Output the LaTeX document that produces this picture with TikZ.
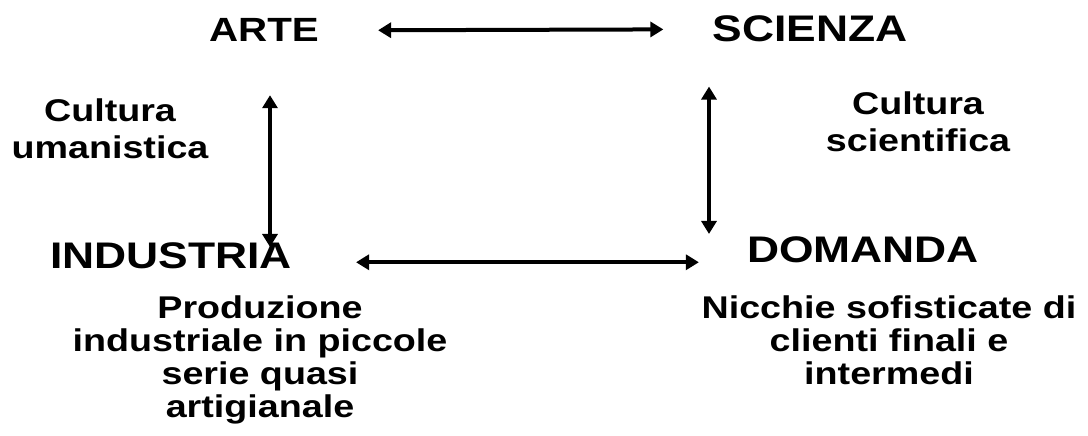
\documentclass[tikz,border=0pt]{standalone}
\usepackage{fontspec}
\setmainfont{Liberation Sans}[FakeStretch=1.2]
\usetikzlibrary{arrows.meta}
\begin{document}
\begin{tikzpicture}[x=1pt,y=-1pt,
  big/.style={inner sep=0pt,anchor=base,font=\fontsize{37}{39}\selectfont\bfseries},
  small/.style={inner sep=0pt,anchor=base,align=center,font=\fontsize{31.4}{37}\selectfont\bfseries},
  body/.style={inner sep=0pt,anchor=base,align=center,font=\fontsize{31.4}{33}\selectfont\bfseries},
  dbl/.style={{Triangle[length=13pt,width=15pt]}-{Triangle[length=13pt,width=15pt]},line width=4pt}]
\useasboundingbox (0,0) rectangle (1088,436);
\node[big,font=\fontsize{33.6}{36}\selectfont\bfseries] (arte) at (264,42) {ARTE};
\node[big] (scienza) at (810,42) {SCIENZA};
\node[big] (industria) at (171,268) {INDUSTRIA};
\node[big] (domanda) at (863,262) {DOMANDA};
\node[small] (cu) at (110,158) {Cultura\\umanistica};
\node[small] (cs) at (918,151) {Cultura\\scientifica};
\node[body] (prod) at (260,417) {Produzione\\industriale in piccole\\serie quasi\\artigianale};
\node[body] (nic) at (889,384) {Nicchie sofisticate di\\clienti finali e\\intermedi};
\draw[dbl,shorten <=59pt,shorten >=49pt] (arte.east) -- (scienza.west);
\draw[dbl,shorten <=53pt,shorten >=-5pt] ([xshift=6pt]arte.south) -- ([xshift=6pt]arte.south |- industria.north);
\draw[dbl,shorten <=44pt,shorten >=2pt] ([xshift=-101pt]scienza.south) -- ([xshift=-101pt]scienza.south |- domanda.north);
\draw[dbl,shorten <=64pt,shorten >=48pt] ([yshift=-7pt]industria.east) -- ([yshift=-7pt]industria.east -| domanda.west);
\end{tikzpicture}
\end{document}
